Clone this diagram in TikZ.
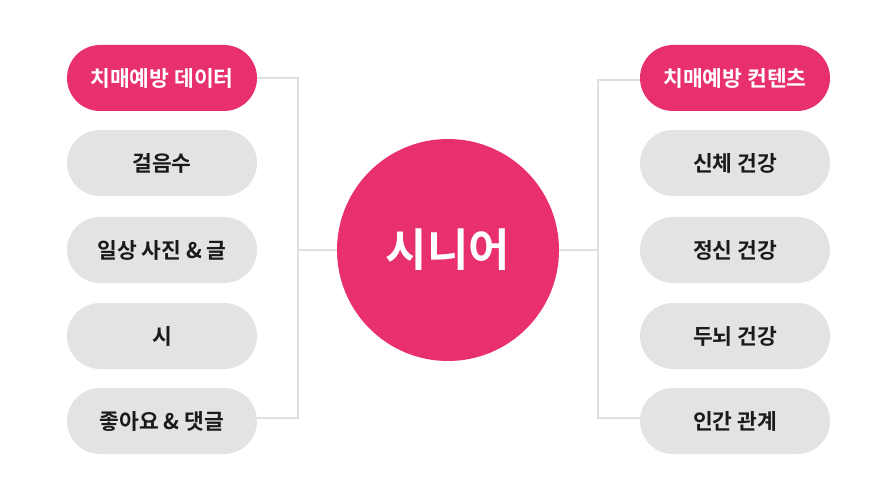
\documentclass[tikz,border=0pt]{standalone}
\usepackage{fontspec}
\setmainfont{Noto Sans CJK KR}[BoldFont={Noto Sans CJK KR Bold}]
\usetikzlibrary{positioning}
\definecolor{pinkish}{HTML}{E8306F}
\definecolor{pillgray}{HTML}{E4E2E3}
\definecolor{linegray}{HTML}{E0DEDE}
\definecolor{txt}{HTML}{1A1A1A}

\begin{document}
\begin{tikzpicture}[x=1pt, y=-1pt,
  pill/.style={rectangle, rounded corners=33pt, minimum width=190pt, minimum height=66pt,
    fill=pillgray, text=txt, font=\fontsize{21.5}{24}\selectfont\bfseries, inner sep=0pt},
  head/.style={pill, fill=pinkish, text=white},
  link/.style={draw=linegray, line width=2.8pt}]
  \useasboundingbox (0,0) rectangle (896,500);

  \node[circle, fill=pinkish, minimum size=222pt, inner sep=0pt, text=white,
        font=\fontsize{45}{50}\selectfont\bfseries] (senior) at (448,250) {시니어};

  \node[head] (data)   at (162,78)  {치매예방 데이터};
  \node[pill] (walk)   at (162,163) {걸음수};
  \node[pill] (diary)  at (162,250) {일상 사진 \& 글};
  \node[pill] (poem)   at (162,336) {시};
  \node[pill] (like)   at (162,421) {좋아요 \& 댓글};

  \node[head] (cont)   at (735,78)  {치매예방 컨텐츠};
  \node[pill] (body)   at (735,163) {신체 건강};
  \node[pill] (mind)   at (735,250) {정신 건강};
  \node[pill] (brain)  at (735,336) {두뇌 건강};
  \node[pill] (people) at (735,421) {인간 관계};

  % bracket corners
  \coordinate (lt) at (298,78);  \coordinate (lb) at (298,418);
  \coordinate (lm) at (298,250);
  \coordinate (rt) at (598,80);  \coordinate (rb) at (598,418);
  \coordinate (rm) at (598,250);
  \draw[link] (data.east) -- (lt) -- (lb) -- (like.east |- lb);
  \draw[link] (lm) -- (senior.west);
  \draw[link] (senior.east) -- (rm);
  \draw[link] (cont.west |- rt) -- (rt) -- (rb) -- (people.west |- rb);
\end{tikzpicture}
\end{document}
